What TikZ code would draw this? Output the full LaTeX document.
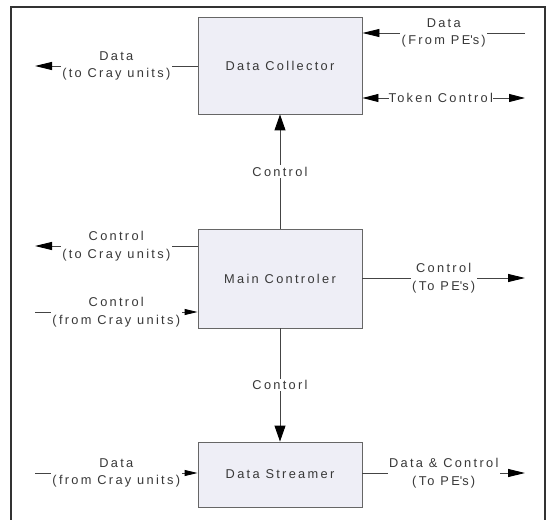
\documentclass[tikz,border=0pt]{standalone}
\usepackage{fontspec}
\setmainfont{Liberation Sans}
\newfontfamily\diagfont[LetterSpace=18]{Liberation Sans}
\usetikzlibrary{arrows.meta}
\definecolor{boxfill}{HTML}{EEEEF6}
\definecolor{boxedge}{HTML}{666666}
\definecolor{wire}{HTML}{444444}
\definecolor{txt}{HTML}{383838}
\definecolor{frame}{HTML}{333333}
\begin{document}
\begin{tikzpicture}[x=1bp,y=-1bp,
  block/.style={draw=boxedge, fill=boxfill, line width=0.9bp,
    minimum width=164bp, inner sep=0pt, text=txt,
    font=\diagfont\fontsize{12.8bp}{17.5bp}\selectfont},
  link/.style={draw=wire, line width=0.9bp},
  bigtip/.style={-{Triangle[length=16bp,width=11bp,color=black]}},
  sidetip/.style={-{Triangle[length=17bp,width=8bp,color=black]}},
  smalltip/.style={-{Triangle[length=13bp,width=6bp,color=black]}},
  bothtips/.style={{Triangle[length=16bp,width=8bp,color=black]}-{Triangle[length=16bp,width=8bp,color=black]}},
  lbl/.style={fill=white, inner sep=1.5bp, align=center, text=txt,
    font=\diagfont\fontsize{12.8bp}{17.5bp}\selectfont}
]
\useasboundingbox (0,0) rectangle (548,520);

% outer frame, open at the bottom
\draw[frame, line width=1.3bp] (11,521) -- (11,7) -- (545,7) -- (545,521);

% blocks
\node[block, minimum height=97bp] (dc) at (280,65.5) {Data Collector};
\node[block, minimum height=99bp] (mc) at (280,278.5) {Main Controler};
\node[block, minimum height=65bp] (ds) at (280,474.5) {Data Streamer};

% free ends of the connectors
\coordinate (dcL)  at (35,66);
\coordinate (dcR1) at (525,33);
\coordinate (dcR2) at (525,98);
\coordinate (mcL1) at (35,246);
\coordinate (mcL2) at (35,312);
\coordinate (mcR)  at (525,278);
\coordinate (dsL)  at (35,473);
\coordinate (dsR)  at (525,473);

% Data Collector connections
\draw[link, sidetip] (dc.west |- dcL) -- node[lbl] {Data\\(to Cray units)} (dcL);
\draw[link, sidetip] (dcR1) -- node[lbl] {Data\\(From PE\textquotesingle s)} (dc.east |- dcR1);
\draw[link, bothtips] (dc.east |- dcR2) -- node[lbl, inner xsep=0pt, xshift=-3bp] {Token Control} (dcR2);

% Main Controler connections
\draw[link, bigtip] (mc.north) -- node[lbl] {Control} (dc.south);
\draw[link, sidetip] (mc.west |- mcL1) -- node[lbl] {Control\\(to Cray units)} (mcL1);
\draw[link, smalltip] (mcL2) -- node[lbl] {Control\\(from Cray units)} (mc.west |- mcL2);
\draw[link, sidetip] (mc.east |- mcR) -- node[lbl] {Control\\(To PE\textquotesingle s)} (mcR);
\draw[link, bigtip] (mc.south) -- node[lbl] {Contorl} (ds.north);

% Data Streamer connections
\draw[link, smalltip] (dsL) -- node[lbl] {Data\\(from Cray units)} (ds.west |- dsL);
\draw[link, sidetip] (ds.east |- dsR) -- node[lbl] {Data \& Control\\(To PE\textquotesingle s)} (dsR);
\end{tikzpicture}
\end{document}
